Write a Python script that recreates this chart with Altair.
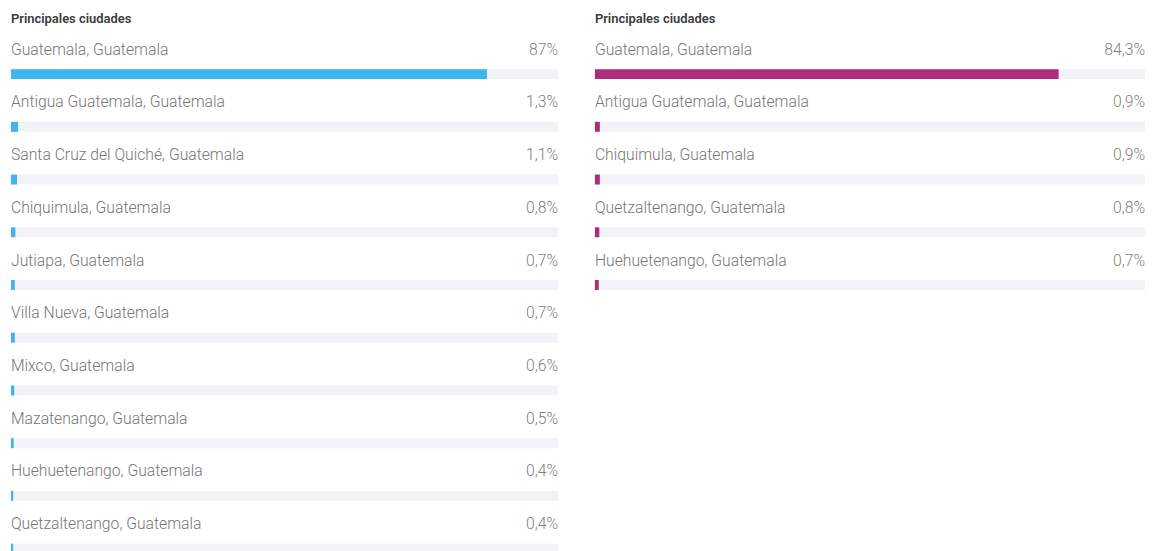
import altair as alt
import pandas as pd

title_text = "Principales ciudades"

left_cities = [
    "Guatemala, Guatemala",
    "Antigua Guatemala, Guatemala",
    "Santa Cruz del Quiché, Guatemala",
    "Chiquimula, Guatemala",
    "Jutiapa, Guatemala",
    "Villa Nueva, Guatemala",
    "Mixco, Guatemala",
    "Mazatenango, Guatemala",
    "Huehuetenango, Guatemala",
    "Quetzaltenango, Guatemala",
]
left_values = [87, 1.3, 1.1, 0.8, 0.7, 0.7, 0.6, 0.5, 0.4, 0.4]

right_cities = [
    "Guatemala, Guatemala",
    "Antigua Guatemala, Guatemala",
    "Chiquimula, Guatemala",
    "Quetzaltenango, Guatemala",
    "Huehuetenango, Guatemala",
]
right_values = [84.3, 0.9, 0.9, 0.8, 0.7]

ROW = 53
FONT = "Roboto"


def panel(cities, values, color, width):
    df = pd.DataFrame({"city": cities, "value": values, "rank": list(range(len(cities)))})
    n = len(cities)
    base = alt.Chart(df).transform_calculate(
        label="replace(format(datum.value, '.1~f'), '.', ',') + '%'"
    )
    xs = alt.Scale(domain=[0, 100], nice=False, zero=True)
    y = alt.Y("rank:O", axis=None, scale=alt.Scale(paddingInner=0, paddingOuter=0))

    track = base.mark_bar(color="#f2f3f6", height=10, yOffset=12.5).encode(
        x=alt.X(datum=0, scale=xs, axis=None),
        x2=alt.X2(datum=100),
        y=y,
    )
    bar = base.mark_bar(color=color, height=10, yOffset=12.5).encode(
        x=alt.X("value:Q", scale=xs, axis=None),
        y=y,
    )
    names = base.mark_text(
        align="left", baseline="middle", yOffset=-12, fontSize=15.8,
        font=FONT, fontWeight=300, color="#767676",
    ).encode(x=alt.X(datum=0, scale=xs, axis=None), y=y, text="city:N")
    vals = base.mark_text(
        align="right", baseline="middle", yOffset=-12, fontSize=15.8,
        font=FONT, fontWeight=300, color="#7f7f7f",
    ).encode(x=alt.X(datum=100, scale=xs, axis=None), y=y, text="label:N")

    return alt.layer(track, bar, names, vals).properties(
        width=width,
        height=ROW * n,
        title=alt.TitleParams(
            title_text, anchor="start", fontSize=13, fontWeight=600,
            color="#3a3a3a", font=FONT, offset=9,
        ),
    )


left = panel(left_cities, left_values, "#3db5ef", 550)
right = panel(right_cities, right_values, "#ad2d7c", 553)

chart = (
    alt.hconcat(left, right, spacing=37)
    .properties(padding={"left": 3, "top": 4, "right": 0, "bottom": 0})
    .configure_view(stroke=None)
)

chart.save("out.html", embed_options={"renderer": "svg", "actions": False})
